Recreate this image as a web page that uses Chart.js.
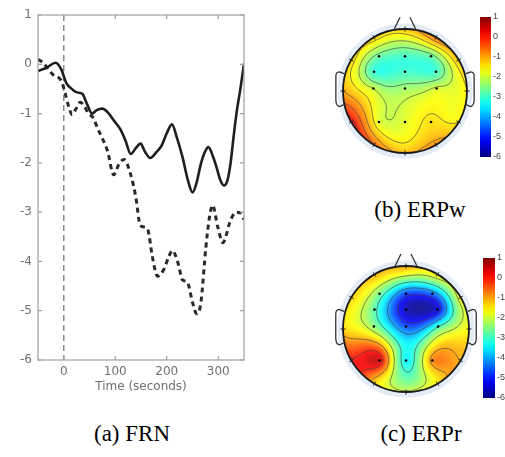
<!DOCTYPE html>
<html>
<head>
<meta charset="utf-8">
<script src="https://cdn.jsdelivr.net/npm/chart.js@4.4.1/dist/chart.umd.min.js"></script>
<style>
  html, body { margin: 0; padding: 0; background: #fff; overflow: hidden; }
  body { width: 505px; height: 457px; position: relative; }
  .box { position: absolute; }
  .cap { position: absolute; font-family: 'Liberation Serif', serif; font-size: 23px; color: #000;
         transform: translate(-50%, -50%); white-space: nowrap; }
</style>
</head>
<body>
<div class="box" style="left:0;top:0;width:255px;height:400px"><canvas id="frn"></canvas></div>
<div class="box" style="left:325px;top:5px;width:160px;height:175px"><canvas id="headW"></canvas></div>
<div class="box" style="left:478px;top:8px;width:27px;height:160px"><canvas id="barW"></canvas></div>
<div class="box" style="left:325px;top:245px;width:165px;height:175px"><canvas id="headR"></canvas></div>
<div class="box" style="left:481px;top:249px;width:25px;height:160px"><canvas id="barR"></canvas></div>
<div class="cap" style="left:132px;top:434px">(a) FRN</div>
<div class="cap" style="left:420px;top:210px">(b) ERPw</div>
<div class="cap" style="left:421px;top:434px">(c) ERPr</div>
<script>
// (a) FRN waveforms
const timeSolid = [-50, -32, -16, -5, 5, 18, 26, 36, 45, 55, 64, 75, 85, 98, 110, 120, 130, 140, 149, 158, 168, 180, 190, 200, 210, 220, 231, 241, 250, 258, 266, 274, 281, 289, 297, 304, 311, 318, 324, 330, 336, 343, 350];
const valueSolid = [-0.14, -0.06, 0.03, -0.1, -0.38, -0.52, -0.57, -0.6, -0.8, -1.0, -0.93, -0.9, -0.97, -1.15, -1.32, -1.55, -1.82, -1.7, -1.61, -1.78, -1.9, -1.78, -1.65, -1.4, -1.22, -1.5, -1.9, -2.35, -2.6, -2.4, -2.03, -1.78, -1.68, -1.85, -2.1, -2.35, -2.46, -2.35, -2.0, -1.45, -0.95, -0.5, 0.01];
const timeDashed = [-50, -40, -30, -19, -5, 3, 10, 16, 24, 32, 40, 48, 56, 68, 77, 85, 97, 107, 117, 130, 140, 148, 155, 163, 172, 182, 195, 204, 211, 221, 231, 240, 250, 258, 266, 276, 283, 289, 299, 309, 316, 322, 335, 343, 350];
const valueDashed = [0.1, 0.03, -0.1, -0.23, -0.33, -0.6, -0.87, -1.02, -0.9, -0.77, -0.85, -1.0, -1.07, -1.35, -1.55, -1.76, -2.24, -2.03, -1.93, -2.24, -2.7, -3.25, -3.3, -3.35, -3.9, -4.3, -4.15, -3.9, -3.78, -4.0, -4.38, -4.42, -4.83, -5.06, -4.86, -3.71, -3.1, -2.86, -3.3, -3.62, -3.45, -3.22, -3.0, -3.02, -3.15];
const timeTicks = [0, 100, 200, 300];
const voltTicks = [1, 0, -1, -2, -3, -4, -5, -6];
const eventTime = 0;

// electrode montage, unit head radius
const elecX = [-0.42, 0, 0.42, -0.5, 0, 0.5, -0.51, 0, 0.51, -0.42, 0, 0.42];
const elecY = [0.56, 0.56, 0.56, 0.31, 0.31, 0.31, 0.04, 0.04, 0.04, -0.5, -0.5, -0.5];
const rimAngles = [90, 60, 30, 0, -30, -60, -90, -120, -150, 180, 150, 120];

// (b) ERPw and (c) ERPr amplitudes
const erpwInner = [-2.7, -3.0, -2.7, -3.1, -3.0, -3.0, -2.0, -2.3, -1.9, -1.8, -1.8, -1.4];
const erpwRim = [-1.2, -0.6, -1.1, -1.5, -1.5, -0.8, -1.1, -0.5, 0.2, -1.0, -1.3, -1.3];
const erprInner = [-2.6, -4.7, -4.4, -2.8, -5.6, -5.4, -2.4, -4.6, -3.0, 0.4, -3.4, -0.8];
const erprRim = [-1.0, -1.6, -1.7, -1.6, -1.0, -1.5, -1.9, -1.3, 0.1, -1.3, -1.3, -1.1];
const erpwLevels = [-2.5, -2, -1.5, -1, -0.5, 0];
const erprLevels = [-5, -4, -3, -2, -1, 0];
const colorTicks = [1, 0, -1, -2, -3, -4, -5, -6];
const colorMin = -6;
const colorMax = 1;

const axisFont = { family: 'DejaVu Sans', size: 12 };

function jet(t, wash = 0) {
  t = Math.max(0, Math.min(1, t));
  const c = v => {
    v = Math.max(0, Math.min(1, v));
    return Math.round(255 * (v + (1 - v) * wash));
  };
  return [c(1.5 - Math.abs(4 * t - 3)), c(1.5 - Math.abs(4 * t - 2)), c(1.5 - Math.abs(4 * t - 1))];
}

function solve(A, b) {
  const n = b.length;
  for (let k = 0; k < n; k++) {
    let p = k;
    for (let i = k + 1; i < n; i++) if (Math.abs(A[i][k]) > Math.abs(A[p][k])) p = i;
    [A[k], A[p]] = [A[p], A[k]];
    [b[k], b[p]] = [b[p], b[k]];
    for (let i = k + 1; i < n; i++) {
      const f = A[i][k] / A[k][k];
      for (let j = k; j < n; j++) A[i][j] -= f * A[k][j];
      b[i] -= f * b[k];
    }
  }
  const w = new Array(n).fill(0);
  for (let i = n - 1; i >= 0; i--) {
    let s = b[i];
    for (let j = i + 1; j < n; j++) s -= A[i][j] * w[j];
    w[i] = s / A[i][i];
  }
  return w;
}

// biharmonic spline, like griddata 'v4'
function biharmonic(px, py, pv) {
  const g = r => (r < 1e-9 ? 0 : r * r * (Math.log(r) - 1));
  const A = px.map((xi, i) => px.map((xj, j) => g(Math.hypot(xi - xj, py[i] - py[j]))));
  const w = solve(A, pv.slice());
  return (x, y) => {
    let s = 0;
    for (let i = 0; i < px.length; i++) s += w[i] * g(Math.hypot(x - px[i], y - py[i]));
    return s;
  };
}

function drawContours(ctx, f, x, y, x0, y0, size, levels) {
  const step = 2;
  const n = Math.ceil(size / step) + 1;
  const grid = [];
  for (let j = 0; j < n; j++) {
    grid[j] = [];
    for (let i = 0; i < n; i++) {
      grid[j][i] = f(x.getValueForPixel(x0 + i * step), y.getValueForPixel(y0 + j * step));
    }
  }
  ctx.strokeStyle = 'rgba(60,60,60,0.75)';
  ctx.lineWidth = 0.8;
  levels.forEach(L => {
    ctx.beginPath();
    for (let j = 0; j < n - 1; j++) {
      for (let i = 0; i < n - 1; i++) {
        const a = grid[j][i], b = grid[j][i + 1], c = grid[j + 1][i + 1], d = grid[j + 1][i];
        const pts = [];
        const px = x0 + i * step, py = y0 + j * step;
        if ((a - L) * (b - L) < 0) pts.push([px + step * (L - a) / (b - a), py]);
        if ((b - L) * (c - L) < 0) pts.push([px + step, py + step * (L - b) / (c - b)]);
        if ((d - L) * (c - L) < 0) pts.push([px + step * (L - d) / (c - d), py + step]);
        if ((a - L) * (d - L) < 0) pts.push([px, py + step * (L - a) / (d - a)]);
        for (let k = 0; k + 1 < pts.length; k += 2) {
          ctx.moveTo(pts[k][0], pts[k][1]);
          ctx.lineTo(pts[k + 1][0], pts[k + 1][1]);
        }
      }
    }
    ctx.stroke();
  });
}

function topoPlugin(f, levels) {
  return {
    id: 'topo',
    beforeDatasetsDraw(chart) {
      const { ctx, scales: { x, y } } = chart;
      const cx = x.getPixelForValue(0), cy = y.getPixelForValue(0);
      const r = x.getPixelForValue(1) - cx;
      const X = v => x.getPixelForValue(v), Y = v => y.getPixelForValue(v);
      ctx.save();
      // pale ring round the head
      ctx.beginPath();
      ctx.arc(cx, cy, r + 3, 0, 2 * Math.PI);
      ctx.strokeStyle = 'rgba(210,225,242,0.6)';
      ctx.lineWidth = 5;
      ctx.stroke();

      const x0 = Math.floor(cx - r) - 1, y0 = Math.floor(cy - r) - 1;
      const size = Math.ceil(2 * r) + 3;
      const off = document.createElement('canvas');
      off.width = size; off.height = size;
      const octx = off.getContext('2d');
      const img = octx.createImageData(size, size);
      for (let j = 0; j < size; j++) {
        for (let i = 0; i < size; i++) {
          const dx = x.getValueForPixel(x0 + i + 0.5), dy = y.getValueForPixel(y0 + j + 0.5);
          if (dx * dx + dy * dy > 1.0) continue;
          const [R, G, B] = jet((f(dx, dy) - colorMin) / (colorMax - colorMin), 0.1);
          const k = (j * size + i) * 4;
          img.data[k] = R; img.data[k + 1] = G; img.data[k + 2] = B; img.data[k + 3] = 255;
        }
      }
      octx.putImageData(img, 0, 0);
      ctx.drawImage(off, x0, y0);

      ctx.save();
      ctx.beginPath();
      ctx.arc(cx, cy, r, 0, 2 * Math.PI);
      ctx.clip();
      drawContours(ctx, f, x, y, x0, y0, size, levels);
      ctx.restore();

      // head outline, nose, ears
      ctx.beginPath();
      ctx.arc(cx, cy, r, 0, 2 * Math.PI);
      ctx.strokeStyle = '#1a1a1a';
      ctx.lineWidth = 1.8;
      ctx.stroke();
      ctx.strokeStyle = '#333';
      ctx.lineWidth = 1.3;
      ctx.lineJoin = 'round';
      [-1, 1].forEach(s => {
        ctx.beginPath();
        ctx.moveTo(X(s * 0.18), Y(0.985));
        ctx.lineTo(X(s * 0.08), Y(1.19));
        ctx.stroke();
        ctx.beginPath();
        ctx.moveTo(X(s * 0.985), Y(0.28));
        ctx.lineTo(X(s * 1.06), Y(0.31));
        ctx.quadraticCurveTo(X(s * 1.12), Y(0.31), X(s * 1.115), Y(0.22));
        ctx.lineTo(X(s * 1.115), Y(-0.15));
        ctx.quadraticCurveTo(X(s * 1.11), Y(-0.25), X(s * 1.05), Y(-0.25));
        ctx.lineTo(X(s * 0.99), Y(-0.22));
        ctx.stroke();
      });
      ctx.restore();
    }
  };
}

function makeHead(id, inner, rim, levels, pad) {
  const rimX = rimAngles.map(a => Math.cos(a * Math.PI / 180));
  const rimY = rimAngles.map(a => Math.sin(a * Math.PI / 180));
  const f = biharmonic(elecX.concat(rimX), elecY.concat(rimY), inner.concat(rim));
  new Chart(document.getElementById(id), {
    type: 'scatter',
    data: {
      datasets: [
        {
          data: elecX.map((v, i) => ({ x: v, y: elecY[i] })),
          pointRadius: 1.3, pointBackgroundColor: '#000', pointBorderWidth: 0
        },
        {
          data: rimX.map((v, i) => ({ x: v, y: rimY[i] })),
          pointStyle: 'line', pointRadius: 2.5, pointRotation: rimAngles.map(a => -a),
          pointBorderColor: '#222', pointBorderWidth: 1
        }
      ]
    },
    options: {
      responsive: true, maintainAspectRatio: false, animation: false, events: [],
      layout: { padding: pad },
      plugins: { legend: { display: false }, tooltip: { enabled: false } },
      scales: {
        x: { type: 'linear', min: -1.2, max: 1.2, display: false },
        y: { type: 'linear', min: -1.2, max: 1.2, display: false }
      }
    },
    plugins: [topoPlugin(f, levels)]
  });
}

function jetGradient(chart) {
  const { ctx, chartArea, scales } = chart;
  if (!chartArea) return '#888';
  const g = ctx.createLinearGradient(0, scales.y.getPixelForValue(colorMin), 0, scales.y.getPixelForValue(colorMax));
  for (let k = 0; k <= 20; k++) {
    const [R, G, B] = jet(k / 20);
    g.addColorStop(k / 20, `rgb(${R},${G},${B})`);
  }
  return g;
}

function makeColorbar(id, labelWidth) {
  new Chart(document.getElementById(id), {
    type: 'bar',
    data: {
      labels: [''],
      datasets: [{
        data: [[colorMin, colorMax]],
        backgroundColor: c => jetGradient(c.chart),
        borderWidth: 0, barPercentage: 1, categoryPercentage: 1
      }]
    },
    options: {
      responsive: true, maintainAspectRatio: false, animation: false, events: [],
      layout: { padding: { left: 2, top: 9, bottom: 11, right: 0 } },
      plugins: { legend: { display: false }, tooltip: { enabled: false } },
      scales: {
        x: { display: false },
        y: {
          position: 'right', min: colorMin, max: colorMax,
          afterBuildTicks: s => { s.ticks = colorTicks.map(v => ({ value: v })); },
          afterFit: s => { s.width = labelWidth; },
          grid: { display: false, drawTicks: false },
          border: { display: false },
          ticks: { padding: 2, color: '#444', font: { family: 'Liberation Sans', size: 9 } }
        }
      }
    }
  });
}

const framePlugin = {
  id: 'frame',
  afterDatasetsDraw(chart) {
    const { ctx, chartArea: a, scales: { x, y } } = chart;
    ctx.save();
    ctx.strokeStyle = '#a0a0a0';
    ctx.lineWidth = 1.2;
    ctx.strokeRect(a.left, a.top, a.width, a.height);
    ctx.beginPath();
    x.ticks.forEach(t => {
      const px = x.getPixelForValue(t.value);
      ctx.moveTo(px, a.bottom); ctx.lineTo(px, a.bottom - 4);
      ctx.moveTo(px, a.top); ctx.lineTo(px, a.top + 4);
    });
    y.ticks.forEach(t => {
      const py = y.getPixelForValue(t.value);
      ctx.moveTo(a.left, py); ctx.lineTo(a.left + 4, py);
      ctx.moveTo(a.right, py); ctx.lineTo(a.right - 4, py);
    });
    ctx.stroke();
    ctx.restore();
  }
};

new Chart(document.getElementById('frn'), {
  type: 'line',
  data: {
    datasets: [
      {
        data: timeSolid.map((t, i) => ({ x: t, y: valueSolid[i] })),
        borderColor: '#1e1e1e', borderWidth: 2.6, pointRadius: 0,
        cubicInterpolationMode: 'monotone', order: 1
      },
      {
        data: timeDashed.map((t, i) => ({ x: t, y: valueDashed[i] })),
        borderColor: '#2a2a2a', borderWidth: 3, borderDash: [5, 4], pointRadius: 0,
        cubicInterpolationMode: 'monotone', order: 2
      },
      {
        data: [{ x: eventTime, y: voltTicks[0] }, { x: eventTime, y: voltTicks[voltTicks.length - 1] }],
        borderColor: '#8a8a8a', borderWidth: 1.5, borderDash: [6, 4], pointRadius: 0, order: 3
      }
    ]
  },
  options: {
    responsive: true, maintainAspectRatio: false, animation: false, events: [],
    layout: { padding: { top: 15, right: 11, left: 0, bottom: 0 } },
    plugins: { legend: { display: false }, tooltip: { enabled: false } },
    scales: {
      x: {
        type: 'linear', min: -50, max: 350,
        afterBuildTicks: s => { s.ticks = timeTicks.map(v => ({ value: v })); },
        afterFit: s => { s.height = 40; },
        grid: { display: false, drawTicks: false },
        border: { display: false },
        ticks: { color: '#707070', font: axisFont, padding: 5, maxRotation: 0 },
        title: { display: true, text: 'Time (seconds)', color: '#707070', font: axisFont, padding: { top: 0, bottom: 6 } }
      },
      y: {
        type: 'linear', min: -6, max: 1,
        afterBuildTicks: s => { s.ticks = voltTicks.map(v => ({ value: v })); },
        afterFit: s => { s.width = 38; },
        grid: { display: false, drawTicks: false },
        border: { display: false },
        ticks: { color: '#707070', font: axisFont, padding: 6 }
      }
    }
  },
  plugins: [framePlugin]
});

makeHead('headW', erpwInner, erpwRim, erpwLevels, { left: 5.6, right: 5.6, top: 11.6, bottom: 14.6 });
makeHead('headR', erprInner, erprRim, erprLevels, { left: 5.4, right: 8.4, top: 8.4, bottom: 15.4 });
makeColorbar('barW', 14);
makeColorbar('barR', 11);
</script>
</body>
</html>
